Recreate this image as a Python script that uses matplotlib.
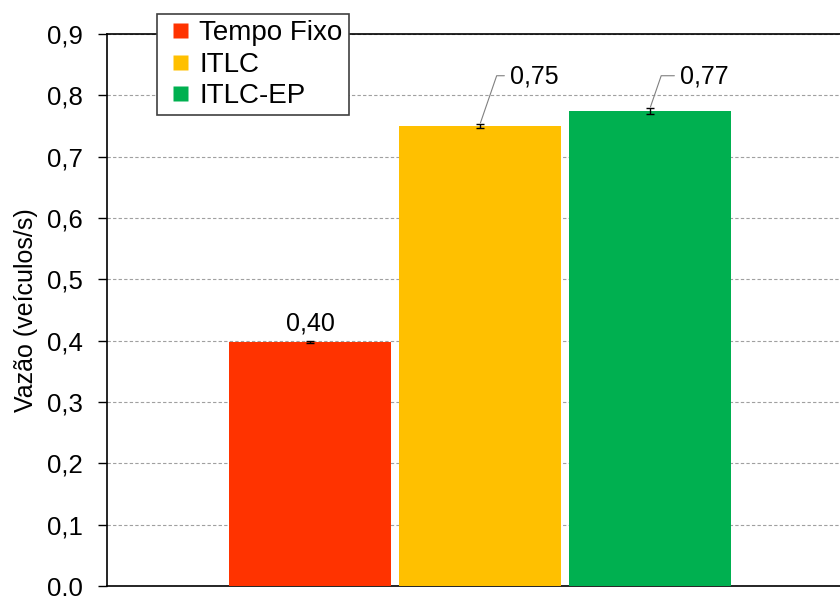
import matplotlib
matplotlib.use("Agg")
import matplotlib.pyplot as plt
from matplotlib.lines import Line2D

plt.rcParams['font.family'] = ['Liberation Sans', 'DejaVu Sans']

# dados
metodos = ['Tempo Fixo', 'ITLC', 'ITLC-EP']
vazao = [0.398, 0.750, 0.774]
erro = [0.002, 0.003, 0.005]
rotulos = ['0,40', '0,75', '0,77']
cores = ['#FF3300', '#FFC000', '#00B050']
yticks = [0.0, 0.1, 0.2, 0.3, 0.4, 0.5, 0.6, 0.7, 0.8, 0.9]
yticklabels = ['0,0', '0,1', '0,2', '0,3', '0,4', '0,5', '0,6', '0,7', '0,8', '0,9']

fig = plt.figure(figsize=(8.4, 5.96), dpi=100)
ax = fig.add_axes([107/840, 10/596, 746/840, 552/596])

pos = list(range(len(metodos)))
ax.bar(pos, vazao, width=162/170, color=cores, zorder=3)
ax.errorbar(pos, vazao, yerr=erro, fmt='none', ecolor='black', elinewidth=1,
            capsize=3, capthick=1, zorder=4)

ax.set_xlim(-1.194, 3.194)
ax.set_ylim(0, 0.9)
ax.set_yticks(yticks)
ax.set_yticklabels(yticklabels, fontsize=18.5)
ax.set_xticks([])
ax.tick_params(axis='y', direction='out', length=6.5, width=1, pad=11)
ax.set_ylabel('Vazão (veículos/s)', fontsize=18, labelpad=6)
ax.yaxis.grid(True, linestyle=(0, (3, 2)), color='#A0A0A0', linewidth=0.8, zorder=0)
for s in ['left', 'bottom', 'top']:
    ax.spines[s].set_linewidth(1.2)
    ax.spines[s].set_color('black')
ax.spines['right'].set_visible(False)

# rótulos
ax.annotate(rotulos[0], xy=(pos[0], vazao[0] + erro[0]), xytext=(0, 4),
            textcoords='offset points', ha='center', va='bottom', fontsize=18)
for i in (1, 2):
    ax.annotate(rotulos[i], xy=(pos[i], vazao[i] + erro[i]),
                xytext=(pos[i] + 0.176, 0.830), textcoords='data',
                ha='left', va='center', fontsize=18,
                arrowprops=dict(arrowstyle='-', color='#808080', lw=0.8,
                                relpos=(0, 0.55),
                                connectionstyle='angle,angleA=0,angleB=71,rad=0',
                                shrinkA=2, shrinkB=1))

handles = [Line2D([], [], linestyle='none', marker='s', markersize=10.8,
                  markerfacecolor=c, markeredgecolor='none') for c in cores]
leg = fig.legend(handles, metodos, loc='upper left',
                 bbox_to_anchor=(157/840, 1 - 14/596), fontsize=20,
                 handlelength=1.25, handletextpad=0.05,
                 labelspacing=0.2, borderpad=0.22, borderaxespad=0,
                 fancybox=False, framealpha=1, edgecolor='#404040')
leg.get_frame().set_linewidth(1.2)

fig.savefig('out.png', dpi=100)
